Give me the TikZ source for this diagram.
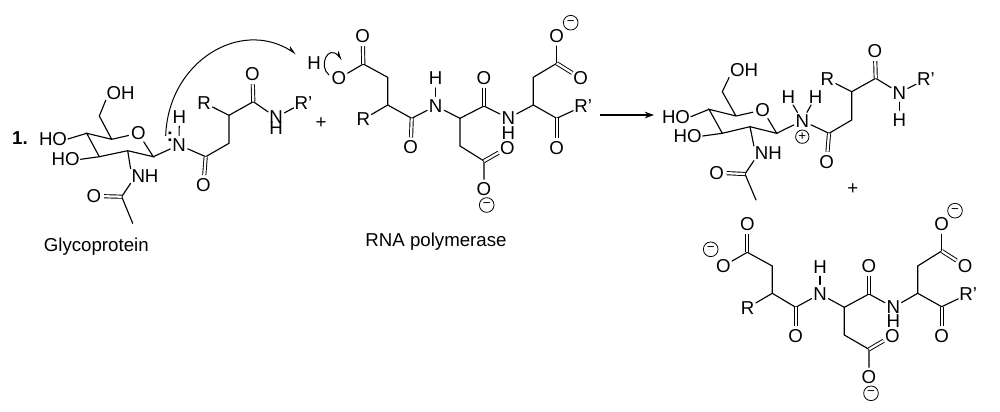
\documentclass[tikz,border=0pt]{standalone}
\usepackage{fontspec}
\setmainfont{Liberation Sans}
\usetikzlibrary{arrows.meta}
\tikzset{
  atom/.style={circle,inner sep=0pt,font=\fontsize{14}{14}\selectfont},
  group/.style={rectangle,inner sep=0.5pt,font=\fontsize{14}{14}\selectfont},
  caption/.style={inner sep=0pt,font=\fontsize{14}{14}\selectfont},
  chargeminus/.style={circle,draw,line width=0.6pt,inner sep=0pt,minimum size=11pt,font=\fontsize{10}{10}\selectfont},
  chargeplus/.style={circle,draw,line width=0.6pt,inner sep=0pt,minimum size=10pt,font=\fontsize{10}{10}\selectfont},
  bond/.style={line width=0.85pt,line cap=round},
  dbond/.style={line width=0.7pt,double,double distance=1.7pt},
  react/.style={line width=0.85pt,-{Stealth[length=7pt,width=5pt]}},
  curly/.style={line width=0.75pt,-{Stealth[length=6pt,width=5pt,harpoon]}},
}
\begin{document}
\begin{tikzpicture}[x=0.75pt,y=-0.75pt]
\useasboundingbox (0,0) rectangle (1000,411);
\fill[white] (0,0) rectangle (1000,411);

% ---------- Glycoprotein ----------
\node[caption,font=\fontsize{14}{14}\selectfont\bfseries] (a1lab) at (20,138) {1.};
\node[caption] (acap) at (96.3,246.7) {Glycoprotein};
\node[group] (aoh) at (120.7,92.7) {OH};
\coordinate (a6) at (99.3,116);
\coordinate (a5) at (111.7,139.3);
\node[atom] (aor) at (138.3,133.3) {O};
\coordinate (ac1) at (153.3,156.7);
\coordinate (ac2) at (127.7,150.7);
\coordinate (ac3) at (99.3,156.7);
\coordinate (ac4) at (86.7,133.3);
\node[group] (aho1) at (53,139) {HO};
\node[group] (aho2) at (65.7,159.3) {HO};
\node[group] (anh) at (145,176) {NH};
\coordinate (aac) at (121.7,196.7);
\node[atom] (aao) at (94,196) {O};
\coordinate (ach3) at (132.7,223.3);
\node[atom] (an) at (179,145) {N};
\node[atom] (anhh) at (179.3,116.7) {H};
\node[caption,font=\fontsize{14}{14}\selectfont\bfseries] (acolon) at (170,137) {:};
\coordinate (ac7) at (205.7,156.7);
\node[atom] (ao7) at (203.5,185) {O};
\coordinate (ac8) at (229,143.3);
\coordinate (ac9) at (229,115.3);
\node[atom] (ar) at (204,102.7) {R};
\coordinate (ac10) at (253.3,101.7);
\node[atom] (ao10) at (252.5,74.3) {O};
\node[atom] (an2) at (276,117.3) {N};
\node[atom] (an2h) at (276,128.5) {H};
\node[atom] (arp) at (303.5,102.7) {R'};
\node[caption] (aplus) at (321,122.7) {+};
\draw[bond] (aoh.south west) -- (a6) -- (a5) -- (aor) -- (ac1) -- (ac2) -- (ac3) -- (ac4) -- (a5);
\draw[bond] (aho1.east) -- (ac4);
\draw[bond] (aho2.east) -- (ac3);
\draw[bond] (ac2) -- (anh.north west);
\draw[bond] (anh.south west) -- (aac) -- (ach3);
\draw[dbond] (aac) -- (aao);
\draw[bond] (ac1) -- (an);
\draw[bond] (an) -- (anhh);
\draw[bond] (an) -- (ac7) -- (ac8) -- (ac9) -- (ac10) -- (an2);
\draw[dbond] (ac7) -- (ao7);
\draw[bond] (ac9) -- (ar);
\draw[dbond] (ac10) -- (ao10);
\draw[bond] (an2) -- (arp);

% ---------- RNA polymerase ----------
\node[caption] (bcap) at (436,241.7) {RNA polymerase};
\node[atom] (bh) at (314,63.3) {H};
\node[atom] (bo1) at (339,78.3) {O};
\coordinate (bc1) at (363.3,64);
\node[atom] (bo2) at (362.7,36) {O};
\coordinate (bc2) at (387.7,77.3);
\coordinate (bc3) at (387.7,105);
\node[atom] (br) at (363.3,119.3) {R};
\coordinate (bc4) at (411.7,118.3);
\node[atom] (bo4) at (410.7,147.3) {O};
\node[atom] (bn1) at (435.7,106) {N};
\node[atom] (bn1h) at (435.7,78.3) {H};
\coordinate (bc5) at (460,118.3);
\coordinate (bc6) at (460,146);
\coordinate (bc7) at (484,161);
\node[atom] (bo7a) at (507.3,147.7) {O};
\node[atom] (bo7b) at (484,189.3) {O};
\node[chargeminus] (bm1) at (486.7,205) {−};
\coordinate (bc8) at (484,106);
\node[atom] (bo8) at (484,78.3) {O};
\node[atom] (bn2) at (508.3,118.3) {N};
\node[atom] (bn2h) at (508.3,132.7) {H};
\coordinate (bc9) at (533.3,105);
\coordinate (bc10) at (533.3,77.3);
\coordinate (bc11) at (556.7,63.3);
\node[atom] (bo11a) at (556.7,36) {O};
\node[chargeminus] (bm2) at (570.7,22.7) {−};
\node[atom] (bo11b) at (580.7,78.3) {O};
\coordinate (bc12) at (556.7,118.3);
\node[atom] (bo12) at (556.7,147.7) {O};
\node[atom] (brp) at (583.3,106) {R'};
\draw[bond] (bo1) -- (bc1) -- (bc2) -- (bc3) -- (bc4) -- (bn1) -- (bc5) -- (bc8) -- (bn2) -- (bc9) -- (bc10) -- (bc11);
\draw[bond] (bc3) -- (br);
\draw[bond] (bn1) -- (bn1h);
\draw[bond] (bc5) -- (bc6) -- (bc7) -- (bo7b);
\draw[bond] (bc9) -- (bc12) -- (brp);
\draw[bond] (bc11) -- (bo11a);
\draw[dbond] (bc1) -- (bo2);
\draw[dbond] (bc4) -- (bo4);
\draw[dbond] (bc7) -- (bo7a);
\draw[dbond] (bc8) -- (bo8);
\draw[dbond] (bc11) -- (bo11b);
\draw[dbond] (bc12) -- (bo12);

% ---------- Arrows ----------
\coordinate (arrS) at (600,115);
\coordinate (arrE) at (654,115);
\draw[react] (arrS) -- (arrE);
\coordinate (curlS) at (165.7,136);
\coordinate (curlE) at (296,54);
\draw[curly] (curlS) .. controls (168,62) and (240,18) .. (curlE);
\coordinate (curl2S) at (329,75);
\coordinate (curl2E) at (342,60);
\draw[curly] (curl2S) .. controls (318,66) and (328,44) .. (curl2E);

% ---------- Product 1 ----------
\node[group] (coh) at (744,70) {OH};
\coordinate (c6) at (722.3,91.7);
\coordinate (c5) at (736,116);
\node[atom] (cor) at (762.7,110) {O};
\coordinate (cc1) at (776.7,133.3);
\coordinate (cc2) at (750,126.7);
\coordinate (cc3) at (722.3,133.3);
\coordinate (cc4) at (709,109.3);
\node[group] (cho1) at (676,116.7) {HO};
\node[group] (cho2) at (687.7,136) {HO};
\node[group] (cnh) at (768.3,153.3) {NH};
\coordinate (cac) at (745,174);
\node[atom] (cao) at (716.7,172.7) {O};
\coordinate (cch3) at (756,200);
\node[atom] (cn) at (802.3,120.7) {N};
\node[atom] (ch1) at (788.3,96.7) {H};
\node[atom] (ch2) at (815.7,96.7) {H};
\node[chargeplus] (cpc) at (802.3,136.7) {+};
\coordinate (cc7) at (829,133.3);
\node[atom] (co7) at (826.7,161.7) {O};
\coordinate (cc8) at (851.7,120);
\coordinate (cc9) at (851.7,91.7);
\node[atom] (cr) at (827.3,79.3) {R};
\coordinate (cc10) at (875.7,78.3);
\node[atom] (co10) at (875,51) {O};
\node[atom] (cn2) at (899.3,92.7) {N};
\node[atom] (cn2h) at (899.3,120) {H};
\node[atom] (crp) at (926,79.3) {R'};
\node[caption] (cplus) at (852.7,189.3) {+};
\draw[bond] (coh.south west) -- (c6) -- (c5) -- (cor) -- (cc1) -- (cc2) -- (cc3) -- (cc4) -- (c5);
\draw[bond] (cho1.east) -- (cc4);
\draw[bond] (cho2.east) -- (cc3);
\draw[bond] (cc2) -- (cnh.north west);
\draw[bond] (cnh.south west) -- (cac) -- (cch3);
\draw[dbond] (cac) -- (cao);
\draw[bond] (cc1) -- (cn);
\draw[bond] (cn) -- (ch1);
\draw[bond] (cn) -- (ch2);
\draw[bond] (cn) -- (cc7) -- (cc8) -- (cc9) -- (cc10) -- (cn2) -- (crp);
\draw[bond] (cn2) -- (cn2h);
\draw[dbond] (cc7) -- (co7);
\draw[bond] (cc9) -- (cr);
\draw[dbond] (cc10) -- (co10);

% ---------- Product 2 ----------
\node[chargeminus] (dm0) at (710.7,249.3) {−};
\node[atom] (do1) at (723.3,266) {O};
\coordinate (dc1) at (747.3,252.3);
\node[atom] (do2) at (747.3,224.3) {O};
\coordinate (dc2) at (772.3,266);
\coordinate (dc3) at (772.3,293.3);
\node[atom] (dr) at (747.7,307.7) {R};
\coordinate (dc4) at (795.7,307.3);
\node[atom] (do4) at (795.7,335.7) {O};
\node[atom] (dn1) at (820,294) {N};
\node[atom] (dn1h) at (820,266.7) {H};
\coordinate (dc5) at (844.3,307.3);
\coordinate (dc6) at (844.3,335);
\coordinate (dc7) at (869,349.3);
\node[atom] (do7a) at (892.3,335.7) {O};
\node[atom] (do7b) at (869,377.3) {O};
\node[chargeminus] (dm1) at (871,393.3) {−};
\coordinate (dc8) at (869,294);
\node[atom] (do8) at (869,266) {O};
\node[atom] (dn2) at (893.3,307.3) {N};
\node[atom] (dn2h) at (893.3,321) {H};
\coordinate (dc9) at (917.7,293.3);
\coordinate (dc10) at (917.7,266);
\coordinate (dc11) at (941.7,251);
\node[atom] (do11a) at (941.7,224.3) {O};
\node[chargeminus] (dm2) at (955,210.7) {−};
\node[atom] (do11b) at (965,266) {O};
\coordinate (dc12) at (941.7,306.7);
\node[atom] (do12) at (941.7,335.7) {O};
\node[atom] (drp) at (968.3,294) {R'};
\draw[bond] (do1) -- (dc1) -- (dc2) -- (dc3) -- (dc4) -- (dn1) -- (dc5) -- (dc8) -- (dn2) -- (dc9) -- (dc10) -- (dc11);
\draw[bond] (dc3) -- (dr);
\draw[bond] (dn1) -- (dn1h);
\draw[bond] (dc5) -- (dc6) -- (dc7) -- (do7b);
\draw[bond] (dc9) -- (dc12) -- (drp);
\draw[bond] (dc11) -- (do11a);
\draw[dbond] (dc1) -- (do2);
\draw[dbond] (dc4) -- (do4);
\draw[dbond] (dc7) -- (do7a);
\draw[dbond] (dc8) -- (do8);
\draw[dbond] (dc11) -- (do11b);
\draw[dbond] (dc12) -- (do12);
\end{tikzpicture}
\end{document}
